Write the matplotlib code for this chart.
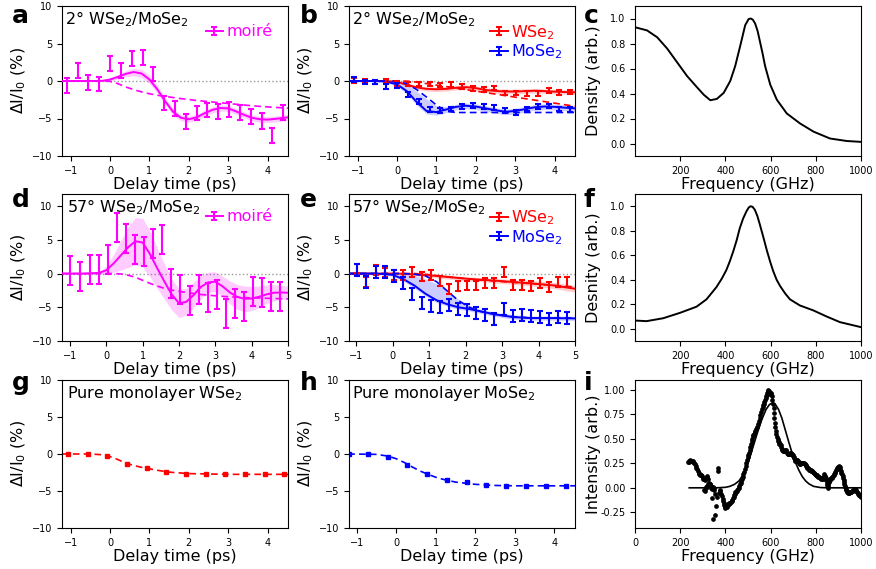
import numpy as np
import matplotlib
matplotlib.use('Agg')
import matplotlib.pyplot as plt
from matplotlib.container import ErrorbarContainer
from matplotlib.legend_handler import HandlerErrorbar

MAGENTA = '#ff00ff'
RED = '#ff0000'
BLUE = '#0000ff'

TICK_FS = 7
LABEL_FS = 11.5
TEXT_FS = 11.5

# ---------------- a / b : 2 deg sample ----------------
t_2deg = [-1.1, -0.825, -0.55, -0.275, 0.0, 0.275, 0.55, 0.825, 1.1, 1.375, 1.65,
          1.925, 2.2, 2.475, 2.75, 3.025, 3.3, 3.575, 3.85, 4.125, 4.4]
moire_2deg = [-0.6, 1.4, -0.2, -0.35, 2.4, 1.45, 3.0, 3.15, 0.95, -2.9, -3.65,
              -5.4, -4.3, -3.85, -4.0, -3.8, -4.15, -4.7, -5.35, -7.25, -4.2]
moire_2deg_err = [0.95, 1.0, 0.95, 0.95, 1.0, 1.0, 1.0, 1.0, 0.95, 0.95, 0.95,
                  1.0, 0.95, 0.95, 1.0, 1.0, 1.0, 1.0, 1.05, 0.95, 0.95]
wse2_2deg = [0.1, 0.0, -0.1, 0.0, -0.3, -0.4, -0.4, -0.4, -0.5, -0.45, -0.75,
             -1.0, -1.15, -0.95, -1.6, -1.6, -1.65, -1.65, -1.25, -1.5, -1.45]
mose2_2deg = [0.2, -0.1, -0.15, -0.75, -0.6, -1.8, -2.7, -3.8, -3.9, -3.75, -3.4,
              -3.25, -3.4, -3.5, -3.9, -4.2, -3.75, -3.4, -3.3, -3.75, -3.8]
small_err = 0.3

fit_t_a = [-1.22, -0.6, -0.2, 0.0, 0.2, 0.4, 0.6, 0.8, 1.0, 1.2, 1.4, 1.6, 1.8, 2.0,
           2.2, 2.4, 2.6, 2.8, 3.0, 3.2, 3.4, 3.6, 3.8, 4.0, 4.2, 4.52]
fit_a = [0, 0, 0.02, 0.2, 0.55, 0.95, 1.2, 1.0, 0.2, -1.1, -2.7, -4.1, -4.9, -5.1,
         -4.85, -4.3, -3.85, -3.6, -3.65, -4.05, -4.5, -4.9, -5.1, -5.15, -5.05, -4.85]
band_a = [0.03, 0.03, 0.05, 0.2, 0.3, 0.4, 0.5, 0.55, 0.55, 0.5, 0.45, 0.45, 0.4, 0.4,
          0.4, 0.4, 0.4, 0.4, 0.4, 0.4, 0.4, 0.4, 0.4, 0.4, 0.4, 0.4]
dash_a = [0, 0, 0, -0.05, -0.35, -0.8, -1.15, -1.45, -1.7, -1.9, -2.05, -2.2, -2.35, -2.47,
          -2.6, -2.7, -2.8, -2.9, -3.0, -3.1, -3.2, -3.3, -3.38, -3.45, -3.52, -3.62]

fit_t_b = [-1.22, -0.6, -0.3, 0.0, 0.25, 0.5, 0.75, 1.0, 1.25, 1.5, 1.75, 2.0, 2.25,
           2.5, 2.75, 3.0, 3.25, 3.5, 3.75, 4.0, 4.25, 4.52]
fit_b_w = [0, 0, 0, -0.1, -0.5, -0.85, -1.05, -1.1, -1.05, -0.9, -0.82, -0.95, -1.2,
           -1.33, -1.4, -1.4, -1.35, -1.3, -1.35, -1.42, -1.47, -1.5]
band_b_w = [0.03, 0.03, 0.05, 0.1, 0.2, 0.25, 0.3, 0.3, 0.3, 0.3, 0.3, 0.3, 0.3,
            0.3, 0.3, 0.3, 0.3, 0.3, 0.3, 0.3, 0.3, 0.3]
dash_b_w = [0, 0, 0, 0, -0.02, -0.15, -0.35, -0.55, -0.75, -0.95, -1.15, -1.35, -1.55,
            -1.75, -1.95, -2.15, -2.35, -2.55, -2.75, -2.95, -3.15, -3.37]
fit_b_m = [0, 0, -0.05, -0.45, -1.35, -2.8, -4.0, -4.15, -3.8, -3.45, -3.3, -3.4, -3.65,
           -3.9, -4.1, -4.0, -3.75, -3.5, -3.4, -3.45, -3.55, -3.65]
band_b_m_hi = [0.1, 0.1, 0.05, -0.1, -0.5, -1.4, -2.4, -3.3, -3.4, -3.1, -2.95, -3.05, -3.3,
               -3.55, -3.75, -3.65, -3.4, -3.15, -3.05, -3.1, -3.2, -3.3]
band_b_m_lo = [-0.1, -0.1, -0.15, -0.7, -1.7, -3.2, -4.4, -4.55, -4.2, -3.85, -3.7, -3.8, -4.05,
               -4.3, -4.5, -4.4, -4.15, -3.9, -3.8, -3.85, -3.95, -4.05]
dash_b_m = [0, 0, 0, -0.05, -0.35, -1.15, -2.15, -3.2, -4.05, -4.2, -4.2, -4.2, -4.2,
            -4.2, -4.2, -4.2, -4.2, -4.2, -4.2, -4.2, -4.2, -4.2]

# ---------------- d / e : 57 deg sample ----------------
t_57deg = [-0.99, -0.72, -0.46, -0.2, 0.04, 0.29, 0.54, 0.79, 1.04, 1.29, 1.54, 1.79,
           2.04, 2.29, 2.54, 2.79, 3.04, 3.29, 3.54, 3.79, 4.04, 4.29, 4.54, 4.79]
moire_57deg = [0.4, -0.45, 0.65, 0.55, 2.05, 6.8, 5.2, 3.5, 3.2, 4.4, 5.1, -1.45,
               -2.3, -4.0, -2.35, -3.55, -3.1, -5.85, -4.4, -4.9, -2.7, -2.8, -3.4, -3.4]
moire_57deg_err = 2.15
wse2_57deg = [0.75, -1.3, 0.5, 0.15, -0.2, -0.2, 0.25, -0.45, -0.25, -1.1, -2.3, -1.8,
              -1.75, -1.75, -1.35, -1.35, 0.25, -1.7, -1.7, -1.85, -1.45, -1.95, -1.25, -1.3]
mose2_57deg = [0.55, -1.2, 0.25, 0.2, -0.4, -1.45, -3.0, -4.4, -4.75, -5.0, -4.7, -5.2,
               -5.4, -5.9, -6.1, -6.7, -5.2, -6.35, -6.2, -6.35, -6.4, -6.7, -6.5, -6.6]
wse2_57deg_err = 0.72
mose2_57deg_err = 0.9

fit_t_d = [-1.22, -0.6, -0.2, 0.0, 0.2, 0.4, 0.6, 0.8, 1.0, 1.2, 1.4, 1.6, 1.8, 2.0, 2.2,
           2.4, 2.6, 2.8, 3.0, 3.2, 3.4, 3.6, 3.8, 4.0, 4.2, 4.4, 4.6, 4.8, 5.0]
fit_d = [0, 0, 0.1, 0.5, 1.5, 2.7, 3.9, 4.8, 4.6, 2.9, 0.8, -1.2, -3.1, -4.4, -4.2,
         -3.2, -2.0, -1.3, -1.2, -1.9, -2.8, -3.45, -3.75, -3.7, -3.45, -3.1, -2.85, -2.8, -2.85]
band_d = [0.02, 0.05, 0.2, 0.6, 1.3, 2.2, 3.0, 3.5, 3.6, 3.4, 3.0, 2.6, 2.3, 2.1, 2.0,
          1.9, 1.7, 1.5, 1.45, 1.5, 1.7, 1.85, 1.9, 1.8, 1.6, 1.4, 1.2, 1.05, 1.0]
dash_d = [0, 0, 0, 0, 0, -0.05, -0.25, -0.55, -1.0, -1.45, -1.85, -2.2, -2.45, -2.65, -2.8,
          -2.95, -3.1, -3.2, -3.3, -3.38, -3.45, -3.5, -3.55, -3.6, -3.63, -3.66, -3.7, -3.72, -3.75]

fit_t_e = [-1.2, -0.6, -0.3, 0.0, 0.3, 0.6, 0.9, 1.2, 1.5, 1.8, 2.1, 2.4, 2.8, 3.3, 3.8, 4.4, 5.0]
fit_e_w = [0, 0, 0, 0, -0.02, -0.1, -0.22, -0.35, -0.5, -0.65, -0.8, -0.9, -1.05, -1.25,
           -1.45, -1.75, -2.25]
band_e_w = [0.05, 0.05, 0.05, 0.1, 0.15, 0.2, 0.25, 0.3, 0.3, 0.3, 0.3, 0.3, 0.35, 0.35,
            0.4, 0.45, 0.5]
dash_e_w = [0, 0, 0, 0, 0, 0, -0.1, -0.3, -0.5, -0.65, -0.8, -0.95, -1.1, -1.3, -1.5, -1.75, -2.0]
fit_e_m = [0, 0, -0.05, -0.2, -0.85, -1.8, -3.0, -3.95, -4.55, -5.0, -5.25, -5.6, -6.05,
           -6.45, -6.6, -6.6, -6.65]
band_e_m_hi = [0.1, 0.1, 0.05, -0.05, -0.1, -0.3, -0.8, -1.5, -2.6, -3.8, -4.7, -5.25, -5.75,
               -6.1, -6.3, -6.3, -6.3]
band_e_m_lo = [-0.1, -0.1, -0.15, -0.35, -1.1, -2.2, -3.35, -4.3, -4.85, -5.3, -5.55, -5.9,
               -6.35, -6.75, -6.9, -6.9, -6.95]
dash_e_m = [0, 0, 0, 0, 0, -0.1, -0.35, -1.2, -2.6, -4.0, -5.0, -5.6, -6.05, -6.4, -6.6, -6.6, -6.6]

# ---------------- g / h : pure monolayers ----------------
t_g = [-1.07, -0.57, -0.07, 0.43, 0.93, 1.43, 1.93, 2.43, 2.93, 3.43, 3.93, 4.43]
wse2_mono = [0.05, -0.05, -0.32, -1.35, -1.85, -2.43, -2.66, -2.66, -2.75, -2.66, -2.75, -2.75]
t_h = [-1.2, -0.72, -0.22, 0.28, 0.78, 1.28, 1.78, 2.28, 2.78, 3.28, 3.78, 4.28]
mose2_mono = [0.0, -0.05, -0.4, -1.45, -2.65, -3.5, -3.85, -4.2, -4.3, -4.3, -4.3, -4.3]
fit_t_mono = [-1.22, -0.5, -0.2, 0.0, 0.2, 0.4, 0.6, 0.8, 1.0, 1.2, 1.5, 2.0, 2.5, 3.0, 4.52]
fit_g = [0, 0, -0.1, -0.35, -0.75, -1.25, -1.55, -1.8, -2.0, -2.2, -2.45, -2.65, -2.7, -2.75, -2.75]
fit_h = [0, -0.05, -0.3, -0.65, -1.15, -1.75, -2.3, -2.75, -3.15, -3.45, -3.8, -4.1, -4.25, -4.3, -4.3]

# ---------------- c / f : phonon densities ----------------
freq_c = [1, 54, 99, 143, 187, 231, 275, 305, 334, 363, 393, 422, 444, 466, 488, 503, 513,
          522, 532, 543, 554, 565, 576, 599, 628, 672, 731, 790, 863, 937, 1000]
dens_c = [0.93, 0.905, 0.85, 0.76, 0.65, 0.54, 0.45, 0.39, 0.346, 0.357, 0.405, 0.5, 0.62,
          0.78, 0.946, 0.995, 1.0, 0.99, 0.96, 0.9, 0.81, 0.72, 0.62, 0.47, 0.35, 0.24, 0.16,
          0.095, 0.04, 0.02, 0.013]
freq_f = [1, 52, 126, 200, 273, 317, 361, 385, 405, 420, 435, 450, 464, 479, 494, 504, 512,
          521, 531, 542, 553, 568, 583, 598, 612, 627, 642, 664, 686, 730, 789, 848, 907, 1000]
dens_f = [0.067, 0.062, 0.086, 0.13, 0.18, 0.24, 0.34, 0.41, 0.48, 0.55, 0.63, 0.72, 0.82,
          0.9, 0.96, 0.99, 1.0, 0.995, 0.97, 0.92, 0.85, 0.75, 0.645, 0.55, 0.47, 0.4, 0.35,
          0.29, 0.24, 0.19, 0.15, 0.10, 0.054, 0.013]

# ---------------- i : measured spectrum ----------------
freq_i = [234, 237, 240, 244, 248, 251, 255, 258, 261, 264,
          268, 271, 274, 277, 281, 284, 288, 291, 293, 296,
          299, 302, 305, 308, 311, 314, 317, 320, 323, 326,
          322, 319, 316, 313, 308, 305, 330, 333, 336, 338,
          342, 345, 348, 351, 367, 367, 341, 360, 353, 344,
          356, 362, 370, 374, 378, 382, 385, 388, 390, 392,
          394, 397, 400, 404, 407, 410, 413, 415, 418, 421,
          424, 427, 430, 433, 436, 439, 442, 444, 447, 450,
          453, 456, 459, 462, 465, 468, 471, 474, 477, 480,
          483, 486, 489, 492, 495, 498, 501, 504, 507, 510,
          513, 516, 519, 521, 524, 527, 530, 533, 537, 541,
          545, 548, 552, 555, 559, 562, 565, 568, 571, 573,
          576, 578, 581, 583, 586, 588, 590, 592, 594, 596,
          598, 600, 603, 606, 608, 611, 613, 615, 617, 619,
          621, 623, 626, 628, 631, 633, 636, 638, 641, 644,
          647, 650, 652, 655, 658, 661, 664, 667, 670, 673,
          676, 679, 682, 684, 687, 689, 692, 694, 697, 699,
          702, 704, 706, 708, 711, 713, 716, 719, 721, 724,
          727, 729, 732, 735, 738, 741, 744, 747, 750, 753,
          756, 758, 761, 763, 766, 769, 772, 775, 777, 780,
          783, 785, 788, 791, 794, 797, 800, 802, 805, 807,
          810, 812, 815, 818, 821, 824, 827, 830, 833, 837,
          840, 842, 844, 846, 848, 850, 852, 854, 855, 857,
          859, 862, 865, 868, 871, 873, 876, 879, 881, 884,
          886, 889, 892, 894, 897, 899, 901, 903, 905, 908,
          910, 913, 916, 919, 921, 923, 925, 926, 928, 930,
          933, 935, 937, 939, 941, 944, 946, 949, 951, 954,
          957, 960, 963, 966, 969, 972, 975, 977, 980, 982,
          985, 988, 990, 993, 996, 998, 1000]
inten_i = [0.267, 0.26, 0.27, 0.28, 0.275, 0.27, 0.274, 0.265, 0.25, 0.24,
           0.22, 0.206, 0.19, 0.172, 0.15, 0.139, 0.135, 0.13, 0.132, 0.12,
           0.105, 0.095, 0.085, 0.078, 0.09, 0.098, 0.11, 0.122, 0.09, 0.054,
           0.035, 0.02, 0.005, -0.005, -0.03, -0.02, 0.04, 0.037, 0.02, 0.003,
           -0.01, 0.01, 0.0, -0.02, 0.206, 0.172, -0.105, -0.19, -0.28, -0.32,
           -0.06, -0.09, -0.05, -0.02, -0.03, -0.06, -0.08, -0.11, -0.13, -0.155,
           -0.18, -0.2, -0.21, -0.19, -0.2, -0.18, -0.17, -0.165, -0.16, -0.15,
           -0.14, -0.13, -0.12, -0.105, -0.09, -0.07, -0.06, -0.047, -0.04, -0.03,
           -0.02, -0.014, 0.0, 0.02, 0.035, 0.054, 0.07, 0.088, 0.11, 0.14,
           0.165, 0.19, 0.22, 0.25, 0.28, 0.31, 0.335, 0.36, 0.39, 0.415,
           0.445, 0.476, 0.5, 0.527, 0.54, 0.55, 0.565, 0.58, 0.6, 0.62,
           0.65, 0.68, 0.71, 0.74, 0.77, 0.8, 0.82, 0.84, 0.86, 0.88,
           0.9, 0.92, 0.94, 0.95, 0.97, 0.99, 1.0, 0.99, 0.98, 0.97,
           0.96, 0.97, 0.955, 0.94, 0.9, 0.86, 0.81, 0.76, 0.71, 0.66,
           0.62, 0.58, 0.55, 0.52, 0.5, 0.48, 0.465, 0.45, 0.445, 0.44,
           0.42, 0.40, 0.385, 0.375, 0.378, 0.38, 0.385, 0.39, 0.375, 0.36,
           0.35, 0.34, 0.345, 0.35, 0.355, 0.36, 0.35, 0.34, 0.33, 0.324,
           0.31, 0.30, 0.285, 0.274, 0.277, 0.28, 0.28, 0.28, 0.27, 0.26,
           0.25, 0.24, 0.245, 0.25, 0.255, 0.257, 0.255, 0.25, 0.245, 0.24,
           0.23, 0.22, 0.213, 0.206, 0.198, 0.19, 0.185, 0.18, 0.178, 0.175,
           0.173, 0.172, 0.163, 0.155, 0.147, 0.139, 0.135, 0.13, 0.126, 0.122,
           0.115, 0.11, 0.107, 0.105, 0.1, 0.095, 0.09, 0.088, 0.11, 0.139,
           0.12, 0.11, 0.105, 0.08, 0.05, 0.025, 0.003, 0.02, 0.04, 0.055,
           0.071, 0.08, 0.09, 0.1, 0.105, 0.11, 0.12, 0.13, 0.139, 0.152,
           0.165, 0.178, 0.19, 0.2, 0.21, 0.217, 0.223, 0.215, 0.21, 0.19,
           0.17, 0.155, 0.14, 0.122, 0.1, 0.08, 0.055, 0.037, 0.02, 0.01,
           -0.014, -0.022, -0.03, -0.04, -0.047, -0.05, -0.05, -0.048, -0.047, -0.044,
           -0.04, -0.035, -0.03, -0.025, -0.02, -0.016, -0.014, -0.025, -0.035, -0.045,
           -0.057, -0.065, -0.07, -0.075, -0.08, -0.085, -0.09]
fit_freq_i = [240, 360, 400, 420, 440, 460, 480, 500, 520, 540, 560, 580, 595, 608, 620,
              635, 650, 665, 680, 695, 710, 725, 740, 755, 770, 790, 820, 850, 1000]
fit_inten_i = [0, 0, 0.005, 0.015, 0.035, 0.07, 0.14, 0.25, 0.4, 0.55, 0.69, 0.8, 0.85,
               0.865, 0.855, 0.8, 0.71, 0.59, 0.47, 0.355, 0.26, 0.18, 0.115, 0.07, 0.04,
               0.015, 0.003, 0, 0]


def arr(v):
    return np.asarray(v, dtype=float)


def delay_axes(ax, xlim, ylim, xticks, zero_line=True):
    ax.set_xlim(*xlim)
    ax.set_ylim(*ylim)
    ax.set_xticks(xticks)
    ax.set_yticks([-10, -5, 0, 5, 10])
    ax.tick_params(labelsize=TICK_FS)
    ax.set_xlabel('Delay time (ps)', fontsize=LABEL_FS, labelpad=1)
    ax.set_ylabel('ΔI/I$_0$ (%)', fontsize=LABEL_FS)
    ax.yaxis.set_label_coords(-0.15, 0.5)
    if zero_line:
        ax.axhline(0, color='0.6', ls=':', lw=1, zorder=0)


def freq_axes(ax, ylabel):
    ax.tick_params(labelsize=TICK_FS)
    ax.set_xlabel('Frequency (GHz)', fontsize=LABEL_FS, labelpad=1)
    ax.set_ylabel(ylabel, fontsize=LABEL_FS)
    ax.yaxis.set_label_coords(-0.15, 0.5)


def fit_with_band(ax, t, y, color, lo=None, hi=None, half=None, dash=None):
    t, y = arr(t), arr(y)
    if half is not None:
        lo, hi = y - arr(half), y + arr(half)
    ax.fill_between(t, arr(lo), arr(hi), color=color, alpha=0.2, lw=0, zorder=1)
    ax.plot(t, y, color=color, lw=1.4, zorder=3)
    if dash is not None:
        ax.plot(t, dash, color=color, lw=1.2, ls=(0, (4, 2.5)), zorder=3)


def data_bars(ax, t, y, err, color, label, lw=1.5, cap=2.5):
    ax.errorbar(t, y, yerr=err, fmt='none', ecolor=color, elinewidth=lw,
                capsize=cap, capthick=lw, zorder=4)
    # legend proxy: line with an error bar, nothing drawn in the axes
    ax.errorbar([np.nan], [np.nan], yerr=[1], fmt='-', color=color, lw=1.4,
                elinewidth=lw, capsize=cap, capthick=lw, label=label)


def add_legend(ax, anchor, colors):
    leg = ax.legend(loc='upper right', bbox_to_anchor=anchor, borderaxespad=0,
                    frameon=False, fontsize=TEXT_FS, handlelength=1.1,
                    handletextpad=0.2, labelspacing=0.05,
                    handler_map={ErrorbarContainer: HandlerErrorbar(yerr_size=0.25)})
    for txt, c in zip(leg.get_texts(), colors):
        txt.set_color(c)


fig = plt.figure(figsize=(8.76, 5.69), dpi=100)
W, H = 876, 569
col_left = [62, 349, 635]
row_box = [(6, 156), (194, 341), (380, 528)]


def make_ax(row, col):
    top, bot = row_box[row]
    return fig.add_axes([col_left[col] / W, 1 - bot / H, 226 / W, (bot - top) / H])


ax_a = make_ax(0, 0)
ax_b = make_ax(0, 1)
ax_c = make_ax(0, 2)
ax_d = make_ax(1, 0)
ax_e = make_ax(1, 1)
ax_f = make_ax(1, 2)
ax_g = make_ax(2, 0)
ax_h = make_ax(2, 1)
ax_i = make_ax(2, 2)

# a
delay_axes(ax_a, (-1.22, 4.52), (-10, 10), [-1, 0, 1, 2, 3, 4])
fit_with_band(ax_a, fit_t_a, fit_a, MAGENTA, half=band_a, dash=dash_a)
data_bars(ax_a, t_2deg, moire_2deg, moire_2deg_err, MAGENTA, 'moiré')
ax_a.text(0.015, 0.975, '2° WSe$_2$/MoSe$_2$', transform=ax_a.transAxes,
          va='top', ha='left', fontsize=TEXT_FS)
add_legend(ax_a, (0.96, 0.92), [MAGENTA])

# b
delay_axes(ax_b, (-1.22, 4.52), (-10, 10), [-1, 0, 1, 2, 3, 4])
fit_with_band(ax_b, fit_t_b, fit_b_w, RED, half=band_b_w, dash=dash_b_w)
fit_with_band(ax_b, fit_t_b, fit_b_m, BLUE, lo=band_b_m_lo, hi=band_b_m_hi, dash=dash_b_m)
data_bars(ax_b, t_2deg, wse2_2deg, small_err, RED, 'WSe$_2$', lw=1.5, cap=2)
data_bars(ax_b, t_2deg, mose2_2deg, small_err, BLUE, 'MoSe$_2$', lw=1.5, cap=2)
ax_b.text(0.015, 0.975, '2° WSe$_2$/MoSe$_2$', transform=ax_b.transAxes,
          va='top', ha='left', fontsize=TEXT_FS)
add_legend(ax_b, (0.975, 0.93), [RED, BLUE])

# c
ax_c.plot(freq_c, dens_c, color='k', lw=1.4)
ax_c.set_xlim(1, 1000)
ax_c.set_ylim(-0.1, 1.1)
ax_c.set_xticks([200, 400, 600, 800, 1000])
ax_c.set_yticks([0.0, 0.2, 0.4, 0.6, 0.8, 1.0])
freq_axes(ax_c, 'Density (arb.)')

# d
delay_axes(ax_d, (-1.22, 5.0), (-10, 11.8), [-1, 0, 1, 2, 3, 4, 5])
fit_with_band(ax_d, fit_t_d, fit_d, MAGENTA, half=band_d, dash=dash_d)
data_bars(ax_d, t_57deg, moire_57deg, moire_57deg_err, MAGENTA, 'moiré')
ax_d.text(0.02, 0.98, '57° WSe$_2$/MoSe$_2$', transform=ax_d.transAxes,
          va='top', ha='left', fontsize=TEXT_FS)
add_legend(ax_d, (0.96, 0.94), [MAGENTA])

# e
delay_axes(ax_e, (-1.2, 5.0), (-10, 11.8), [-1, 0, 1, 2, 3, 4, 5])
fit_with_band(ax_e, fit_t_e, fit_e_w, RED, half=band_e_w, dash=dash_e_w)
fit_with_band(ax_e, fit_t_e, fit_e_m, BLUE, lo=band_e_m_lo, hi=band_e_m_hi, dash=dash_e_m)
data_bars(ax_e, t_57deg, wse2_57deg, wse2_57deg_err, RED, 'WSe$_2$', lw=1.5, cap=2)
data_bars(ax_e, t_57deg, mose2_57deg, mose2_57deg_err, BLUE, 'MoSe$_2$', lw=1.5, cap=2)
ax_e.text(0.015, 0.98, '57° WSe$_2$/MoSe$_2$', transform=ax_e.transAxes,
          va='top', ha='left', fontsize=TEXT_FS)
add_legend(ax_e, (0.975, 0.945), [RED, BLUE])

# f
ax_f.plot(freq_f, dens_f, color='k', lw=1.4)
ax_f.set_xlim(1, 1000)
ax_f.set_ylim(-0.1, 1.1)
ax_f.set_xticks([200, 400, 600, 800, 1000])
ax_f.set_yticks([0.0, 0.2, 0.4, 0.6, 0.8, 1.0])
freq_axes(ax_f, 'Desnity (arb.)')

# g
delay_axes(ax_g, (-1.22, 4.52), (-10, 10), [-1, 0, 1, 2, 3, 4], zero_line=False)
ax_g.plot(fit_t_mono, fit_g, color=RED, lw=1.2, ls=(0, (4, 2.5)))
ax_g.errorbar(t_g, wse2_mono, yerr=0.12, fmt='s', ms=2.5, color=RED, elinewidth=1,
              capsize=1.5)
ax_g.text(0.02, 0.975, 'Pure monolayer WSe$_2$', transform=ax_g.transAxes,
          va='top', ha='left', fontsize=TEXT_FS)

# h
delay_axes(ax_h, (-1.2, 4.52), (-10, 10), [-1, 0, 1, 2, 3, 4], zero_line=False)
ax_h.plot(fit_t_mono, fit_h, color=BLUE, lw=1.2, ls=(0, (4, 2.5)))
ax_h.errorbar(t_h, mose2_mono, yerr=0.12, fmt='s', ms=2.5, color=BLUE, elinewidth=1,
              capsize=1.5)
ax_h.text(0.015, 0.975, 'Pure monolayer MoSe$_2$', transform=ax_h.transAxes,
          va='top', ha='left', fontsize=TEXT_FS)

# i
ax_i.plot(fit_freq_i, fit_inten_i, color='k', lw=1.2)
ax_i.plot(freq_i, inten_i, 'o', color='k', ms=3.4, mew=0)
ax_i.set_xlim(0, 1000)
ax_i.set_ylim(-0.41, 1.1)
ax_i.set_xticks([0, 200, 400, 600, 800, 1000])
ax_i.set_yticks([-0.25, 0.0, 0.25, 0.5, 0.75, 1.0])
ax_i.yaxis.set_major_formatter(matplotlib.ticker.FormatStrFormatter('%.2f'))
freq_axes(ax_i, 'Intensity (arb.)')

# panel letters
letters = 'abcdefghi'
letter_x = [12, 300, 584]
letter_y = [23, 207, 390]
for k, letter in enumerate(letters):
    r, c = divmod(k, 3)
    fig.text(letter_x[c] / W, 1 - letter_y[r] / H, letter, fontsize=18,
             fontweight='bold', va='baseline', ha='left')

fig.savefig('out.png', dpi=100)
